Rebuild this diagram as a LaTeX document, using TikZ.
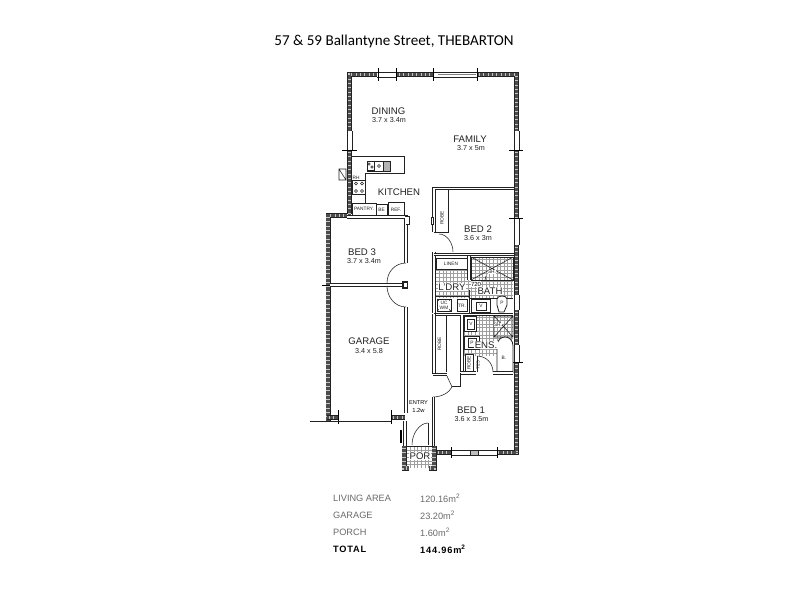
\documentclass[tikz,border=0pt]{standalone}
\usepackage{fontspec}
\setmainfont{Liberation Sans}
\newfontfamily\titlefont{Carlito}
\newfontfamily\spaced[LetterSpace=9]{Liberation Sans}
\usetikzlibrary{calc}
\definecolor{ink}{HTML}{222222}
\definecolor{tablegray}{HTML}{6A6A6A}
\tikzset{
  x=1pt,y=-1pt,
  wallo/.style={line width=5pt,ink,line cap=butt,line join=miter},
  walli/.style={line width=3.6pt,gray!45,line cap=butt,line join=miter},
  wallh/.style={line width=3.6pt,black!70,dash pattern=on .6pt off .7pt,line cap=butt,line join=miter},
  thin wall/.style={line width=.8pt,ink},
  dbl/.style={line width=.9pt,ink,double=white,double distance=1.4pt},
  fine/.style={line width=.55pt,ink},
  tick/.style={line width=1pt,black},
  tile/.style={line width=.35pt,gray!75},
  room/.style={font=\fontsize{9.6}{10}\selectfont,text=ink,inner sep=0pt},
  onfloor/.style={room,fill=white,inner sep=.6pt},
  size/.style={font=\fontsize{7.2}{7}\selectfont,text=ink,inner sep=0pt},
  tiny/.style={font=\fontsize{4.8}{5}\selectfont,text=ink,inner sep=0pt},
  tableleft/.style={font=\fontsize{9.2}{9}\selectfont,text=tablegray,inner sep=0pt,anchor=west},
  tablebold/.style={font=\fontsize{9.2}{9}\spaced\bfseries,text=black,inner sep=0pt,anchor=west},
}
\newcommand{\wallseg}[1]{\draw[wallo] #1; \draw[walli] #1; \draw[wallh] #1;}
\newcommand{\tiles}[4]{\draw[tile,step=3.6pt] (#1,#2) grid (#3,#4);}
\begin{document}
\begin{tikzpicture}
\useasboundingbox (0,0) rectangle (800,600);
\fill[white] (0,0) rectangle (800,600);

% tiled floors
\tiles{436}{270}{469}{296}
\tiles{469}{257}{513}{296}
\tiles{436}{295}{513}{298}
\tiles{475}{314}{513}{355}
\tiles{464}{330}{497}{356}
\tiles{407}{446}{433}{468}

% outer walls
\wallseg{(349.5,131) -- (349.5,74.5) -- (377,74.5)}
\wallseg{(397,74.5) -- (433,74.5)}
\wallseg{(477,74.5) -- (516.5,74.5) -- (516.5,131)}
\wallseg{(349.5,150) -- (349.5,214)}
\wallseg{(516.5,150) -- (516.5,218)}
\wallseg{(516.5,245) -- (516.5,295)}
\wallseg{(516.5,310) -- (516.5,345)}
\wallseg{(516.5,362) -- (516.5,452.5) -- (497,452.5)}
\wallseg{(451,452.5) -- (437,452.5)}
\wallseg{(328,421) -- (328,215.5) -- (347,215.5)}
\wallseg{(327,417.5) -- (338,417.5)}
\wallseg{(391,417.5) -- (405,417.5)}
\wallseg{(404,446) -- (404,468) -- (409,468)}
\wallseg{(434,446) -- (434,468) -- (429,468)}

% windows
\draw[fine] (377,72) -- (397,72) (377,77) -- (397,77);
\draw[fine] (433,72) -- (477,72) (433,77) -- (477,77);
\draw[line width=.9pt,gray] (438,74.5) -- (476,74.5);
\draw[fine] (347,131) -- (347,150) (352,131) -- (352,150);
\draw[fine] (514,131) -- (514,150) (519,131) -- (519,150);
\draw[fine] (514,218) -- (514,245) (519,218) -- (519,245);
\draw[fine] (514,295) -- (514,310) (519,295) -- (519,310);
\draw[fine] (514,345) -- (514,362) (519,345) -- (519,362);
\draw[fine] (451,450) -- (497,450) (451,455) -- (497,455);
\draw[fine,fill=gray!50] (470,450) rectangle (478,455);
\draw[tick] (378,68) -- (378,81) (396,68) -- (396,81) (433,68) -- (433,81) (477,68) -- (477,81);
\draw[tick] (342,150) -- (357,150) (509,150) -- (523,150);
\draw[tick] (509,218) -- (523,218) (510,362) -- (523,362);
\draw[tick] (451,447) -- (451,458) (497,447) -- (497,458);
\draw[tick] (322,285) -- (332,285);
\draw[tick] (338,410) -- (338,424) (391,410) -- (391,424);

% garage door line
\draw[fine] (310,421) -- (391,421);

% bed 3 / garage partitions
\draw[dbl] (347,217) -- (406,217) -- (406,263);
\draw[dbl] (330,285) -- (406,285);
\draw[line width=1.2pt,ink,fill=white] (403,282) rectangle (407.5,288);
\draw[dbl] (406,307) -- (406,413);
\draw[thin wall,fill=white] (405,216) -- (409,216) -- (409,224) -- (406,224);
\draw[fine] (406,263) .. controls (395,263) and (387,272) .. (387,283);
\draw[fine] (406,307) .. controls (395,307) and (387,297) .. (387,286);
\draw[dbl] (405,421) -- (405,446);
\draw[line width=1.6pt,black] (401,430) -- (401,443);

% kitchen joinery
\draw[thin wall] (352,156) -- (404,156) -- (404,173) -- (365,173) -- (365,203);
\draw[thin wall,fill=white] (352,180) rectangle (365,194);
\foreach \cx/\cy in {356/183.5,362/183.5,356/191,362/191}{\draw[fine] (\cx,\cy) circle[radius=1.5];}
\fill[ink] (367,161) rectangle (391,172);
\fill[white] (368,162) rectangle (374,170);
\fill[white] (375,162) rectangle (383,171);
\fill[gray!60] (384,162) rectangle (390,171);
\draw[fine] (369,164) circle[radius=1.2] (372,167) circle[radius=1.2] (379,166) circle[radius=1.4];
\draw[fine] (339,169) rectangle (346,180) (339,169) -- (346,180);
\draw[thin wall] (352,203) rectangle (376,215);
\draw[thin wall] (376,204) rectangle (387,215);
\draw[thin wall] (388,202) rectangle (404,215);

% bed 2
\draw[dbl] (434,232) -- (434,188.5) -- (514,188.5);
\draw[thin wall] (448,190) -- (448,232) -- (434,232);
\draw[thin wall,fill=white] (431,217) rectangle (433.5,224);
\draw[fine] (439,234) .. controls (447,234) and (453,243) .. (453,252);

% services core
\draw[dbl] (434,252) -- (434,313);
\draw[dbl] (434,254.5) -- (514,254.5);
\draw[thin wall,fill=white] (436,258) rectangle (467,269);
\draw[dbl] (469,256) -- (469,280);
\draw[fine] (471,257) rectangle (513,280);
\draw[fine] (471,257) -- (513,280) (471,280) -- (513,257);
\draw[fine] (485,280) -- (486,276);
\draw[thin wall] (436,296) -- (469,296) (469,290) -- (469,298) -- (513,298);
\draw[thin wall,fill=white] (437,299) rectangle (451,311);
\draw[fine] (437,299) -- (451,311) (437,311) -- (451,299);
\draw[thin wall] (457,299) rectangle (467,311);
\draw[thin wall] (469,298) -- (469,313);
\draw[thin wall,fill=white] (471,299) rectangle (490,312);
\draw[thin wall] (476,302) rectangle (486,310);
\draw[thin wall,fill=white] (497,305) -- (497,299) .. controls (497,295) and (507,295) .. (507,299) -- (507,305) -- (504,312) -- (499,312) -- cycle;
\draw[dbl] (434,314.5) -- (513,314.5);

% ensuite
\draw[dbl] (462,315) -- (462,372);
\draw[thin wall,fill=white] (464,316) rectangle (476,331);
\draw[thin wall] (467,319) rectangle (474,329);
\draw[fine] (494,316) rectangle (513,337) (494,316) -- (513,337) (494,337) -- (513,316);
\draw[thin wall,fill=white] (464,336) rectangle (479,349);
\draw[thin wall,fill=white] (468,338) rectangle (476,347);
\draw[thin wall,fill=white] (497,373) -- (497,346) .. controls (497,334) and (513,334) .. (513,346) -- (513,373);
\draw[thin wall,fill=white] (465,354) rectangle (473,372);
\draw[dbl] (460,373) -- (476,373);
\draw[dbl] (493,373) -- (513,373);
\draw[fine] (477,356) .. controls (486,356) and (493,363) .. (493,372);
\draw[fine] (477,356) -- (477,372);

% lower robe
\draw[dbl] (434,314) -- (434,374);
\draw[thin wall] (446,315) -- (446,372);
\draw[dbl] (433,374.5) -- (447,374.5);
\draw[thin wall] (460,373) -- (460,386) -- (452,386);
\draw[fine] (447,376) -- (452,387);
\draw[fine] (452,387) .. controls (449,393) and (441,397) .. (433,397);

% entry
\draw[dbl] (433.5,397) -- (433.5,446);
\draw[fine] (412,445) .. controls (412,433) and (420,423) .. (428,423);
\draw[fine] (428,423) -- (428,445);
\draw[thin wall] (406,446) -- (434,446);

% labels
\node[font=\titlefont\fontsize{15.1}{17}\selectfont,inner sep=0pt] (title) at (394,41) {57 \& 59 Ballantyne Street, THEBARTON};
\node[room] (dining) at (388.5,111) {DINING};
\node[size] (diningsize) at (389,120) {3.7 x 3.4m};
\node[room] (family) at (470,139) {FAMILY};
\node[size] (familysize) at (471,148) {3.7 x 5m};
\node[room] (kitchen) at (399,192.5) {KITCHEN};
\node[room] (bed2) at (478,229) {BED 2};
\node[size] (bed2size) at (478,238) {3.6 x 3m};
\node[room] (bed3) at (362,252) {BED 3};
\node[size] (bed3size) at (364,261.5) {3.7 x 3.4m};
\node[room] (garage) at (369,341) {GARAGE};
\node[size] (garagesize) at (369,351) {3.4 x 5.8};
\node[room] (bed1) at (471,410) {BED 1};
\node[size] (bed1size) at (471.5,419) {3.6 x 3.5m};
\node[font=\fontsize{5.6}{6}\selectfont,inner sep=0pt] (entry) at (418.5,403) {ENTRY};
\node[font=\fontsize{5.8}{6}\selectfont,inner sep=0pt] (entrysize) at (418.5,410) {1.2w};
\node[onfloor] (por) at (420,456) {POR};
\node[onfloor] (ldry) at (452,287) {L'DRY};
\node[onfloor] (bath) at (490,291) {BATH};
\node[onfloor] (ens) at (486,345) {ENS.};
\node[font=\fontsize{6}{6}\selectfont,fill=white,inner sep=.4pt] (seven) at (476,284) {720};
\node[tiny] (linen) at (451,263.5) {LINEN};
\node[tiny,fill=white,inner sep=.4pt] (sh1) at (492,272) {SH.};
\node[tiny,fill=white,inner sep=.4pt] (sh2) at (498,325) {SH.};
\node[tiny] (tr) at (462,306) {TR.};
\node[tiny,align=center,fill=white,inner sep=.4pt] (uc) at (444,305) {UC\\WM};
\node[tiny] (v1) at (481,306) {V};
\node[tiny] (v2) at (471,324) {V};
\node[tiny] (p1) at (502,303) {P};
\node[tiny] (p2) at (472,342.5) {P};
\node[tiny] (b) at (504,358) {B.};
\node[tiny,rotate=90] (robe1) at (442,218) {ROBE};
\node[tiny,rotate=90] (robe2) at (439.5,344) {ROBE};
\node[tiny,rotate=90] (robe3) at (469,363) {ROBE};
\node[tiny,rotate=90] (w725) at (478,365) {725};
\node[tiny] (rh) at (356,178) {RH};
\node[tiny] (pantry) at (364,209) {PANTRY.};
\node[tiny] (be) at (381.5,210) {BE};
\node[tiny] (ref) at (396,209.5) {REF.};

% area table
\node[tableleft] (l1) at (333,498.5) {LIVING AREA};
\node[tableleft] (v1t) at (420,498.5) {120.16m\textsuperscript{2}};
\node[tableleft] (l2) at (333,515.5) {GARAGE};
\node[tableleft] (v2t) at (420,515.5) {23.20m\textsuperscript{2}};
\node[tableleft] (l3) at (333,532.5) {PORCH};
\node[tableleft] (v3t) at (420,532.5) {1.60m\textsuperscript{2}};
\node[tablebold] (l4) at (333,549.5) {TOTAL};
\node[tablebold] (v4t) at (420,549.5) {144.96m\textsuperscript{2}};
\end{tikzpicture}
\end{document}
